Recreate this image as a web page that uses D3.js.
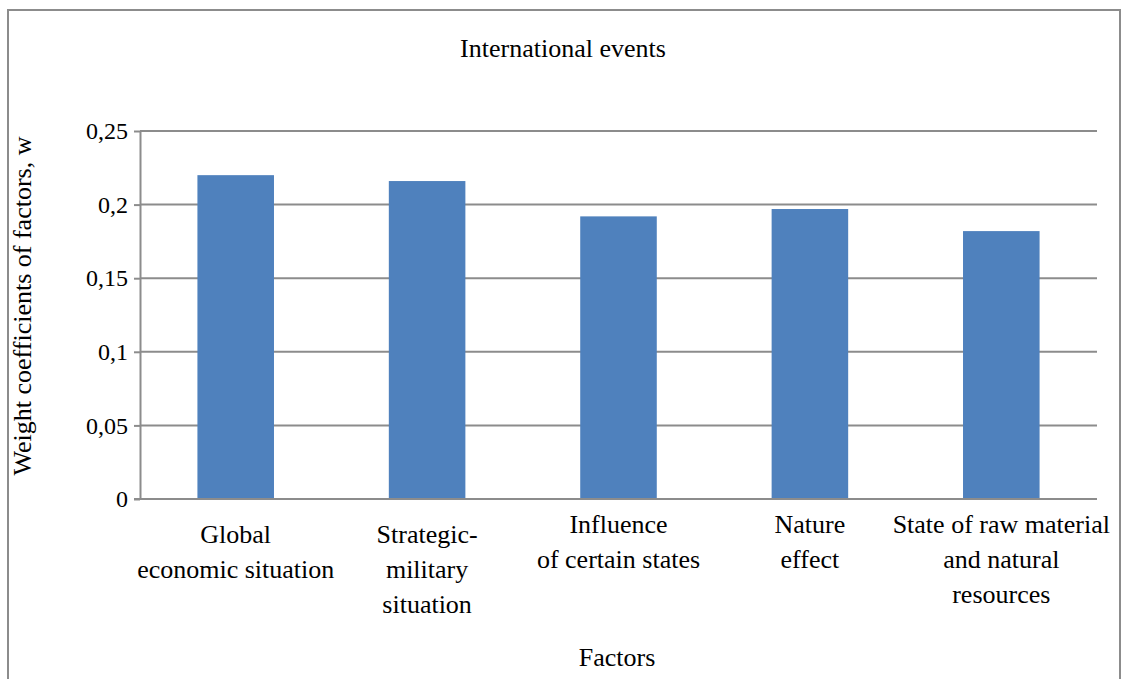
<!DOCTYPE html>
<html>
<head>
<meta charset="utf-8">
<script src="https://cdn.jsdelivr.net/npm/d3@7"></script>
<style>
  html, body { margin: 0; padding: 0; background: #fff; }
  svg, svg text { font-family: "Liberation Serif", "Times New Roman", Times, Tinos, "Nimbus Roman", "DejaVu Serif", serif; }
</style>
</head>
<body>
<svg id="chart" width="1121" height="679"></svg>
<script>
// ---- data ----
const categories = [
  "Global economic situation",
  "Strategic-military situation",
  "Influence of certain states",
  "Nature effect",
  "State of raw material and natural resources"
];
const categoryLines = [
  ["Global", "economic situation"],
  ["Strategic-", "military", "situation"],
  ["Influence", "of certain states"],
  ["Nature", "effect"],
  ["State of raw material", "and natural", "resources"]
];
const weights = [0.220, 0.216, 0.192, 0.197, 0.182];
const tickValues = [0, 0.05, 0.1, 0.15, 0.2, 0.25];
const tickLabels = ["0", "0,05", "0,1", "0,15", "0,2", "0,25"];
const chartTitle = "International events";
const xTitle = "Factors";
const yTitle = "Weight coefficients of factors, w";

// ---- layout ----
const W = 1121, H = 679;
const plot = { left: 140, right: 1097, top: 131, bottom: 499 };
const labelFirstBaseline = [543, 543, 533, 533, 533];
const lineHeight = 35;
const gridColor = "#8c8c8c";
const barColor = "#4f81bd";
const FONT = '"Liberation Serif", "Times New Roman", Times, Tinos, "Nimbus Roman", "DejaVu Serif", serif';

const svg = d3.select("#chart");
svg.append("rect").attr("width", W).attr("height", H).attr("fill", "#fff");

// outer frame
svg.append("rect")
  .attr("x", 8).attr("y", 10)
  .attr("width", 1112).attr("height", H + 20)
  .attr("fill", "none").attr("stroke", gridColor).attr("stroke-width", 2);

const x = d3.scaleBand()
  .domain(categories)
  .range([plot.left, plot.right])
  .paddingInner(0.6)
  .paddingOuter(0.3);

const y = d3.scaleLinear()
  .domain([0, 0.25])
  .range([plot.bottom, plot.top]);

// gridlines
svg.append("g")
  .selectAll("line")
  .data(tickValues.filter(d => d > 0))
  .join("line")
  .attr("x1", plot.left).attr("x2", plot.right)
  .attr("y1", d => y(d)).attr("y2", d => y(d))
  .attr("stroke", gridColor).attr("stroke-width", 2);

// bars
svg.append("g")
  .selectAll("rect")
  .data(weights)
  .join("rect")
  .attr("x", (d, i) => x(categories[i]))
  .attr("width", x.bandwidth())
  .attr("y", d => y(d))
  .attr("height", d => y(0) - y(d))
  .attr("fill", barColor);

// y axis
const yAxis = d3.axisLeft(y)
  .tickValues(tickValues)
  .tickFormat((d, i) => tickLabels[i])
  .tickSizeInner(6)
  .tickSizeOuter(0)
  .tickPadding(6);

const gy = svg.append("g")
  .attr("transform", `translate(${plot.left},0)`)
  .call(yAxis)
  .attr("font-family", FONT);
gy.select(".domain").attr("stroke", gridColor).attr("stroke-width", 2);
gy.selectAll(".tick line").attr("stroke", gridColor).attr("stroke-width", 2);
gy.selectAll(".tick text")
  .style("font-family", FONT)
  .attr("font-size", 24)
  .attr("fill", "#000");

// x axis baseline
svg.append("line")
  .attr("x1", plot.left - 6).attr("x2", plot.right)
  .attr("y1", y(0)).attr("y2", y(0))
  .attr("stroke", gridColor).attr("stroke-width", 2);

// category labels
const labels = svg.append("g")
  .style("font-family", FONT)
  .attr("font-size", 26)
  .attr("text-anchor", "middle")
  .attr("fill", "#000");
categories.forEach((c, i) => {
  const cx = x(c) + x.bandwidth() / 2;
  const t = labels.append("text");
  categoryLines[i].forEach((ln, j) => {
    t.append("tspan")
      .attr("x", cx)
      .attr("y", labelFirstBaseline[i] + j * lineHeight)
      .text(ln);
  });
});

// chart title
svg.append("text")
  .style("font-family", FONT)
  .attr("x", 563).attr("y", 57)
  .attr("text-anchor", "middle")
  .attr("font-size", 26)
  .text(chartTitle);

// x title
svg.append("text")
  .style("font-family", FONT)
  .attr("x", 617).attr("y", 666)
  .attr("text-anchor", "middle")
  .attr("font-size", 26)
  .text(xTitle);

// y title
svg.append("text")
  .style("font-family", FONT)
  .attr("transform", "translate(31,306) rotate(-90)")
  .attr("text-anchor", "middle")
  .attr("font-size", 26)
  .text(yTitle);
</script>
</body>
</html>
